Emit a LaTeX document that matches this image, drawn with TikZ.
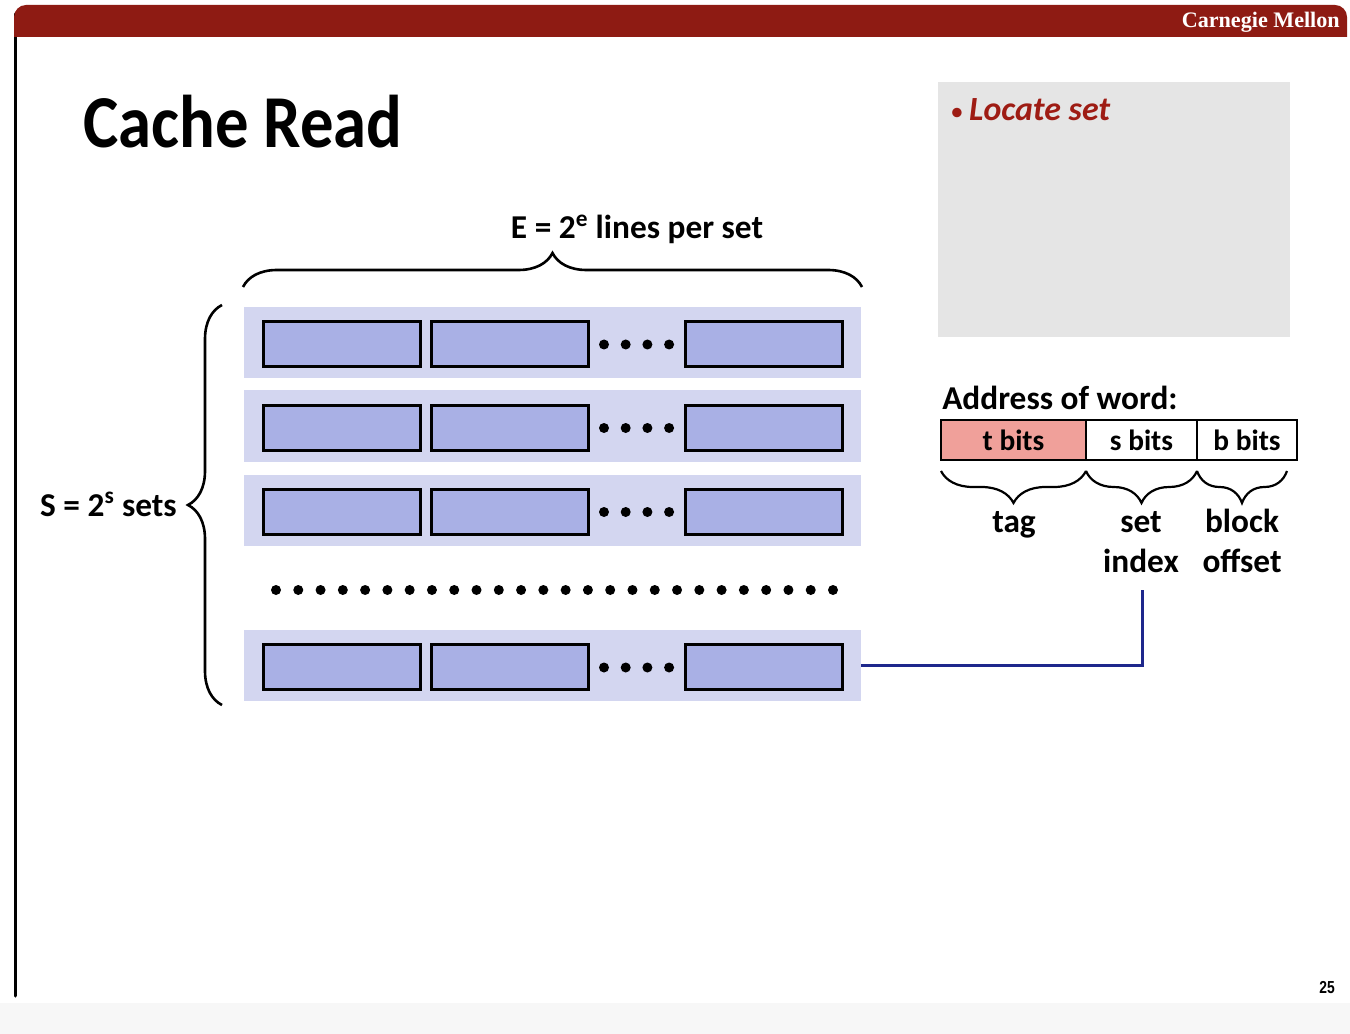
\documentclass[tikz,border=0pt]{standalone}
\usepackage{fontspec}
\setmainfont{Carlito}
\newfontfamily\brandfont{Liberation Serif}
\newfontfamily\pagefont{Liberation Sans}
\usetikzlibrary{decorations.pathreplacing}
\definecolor{cmured}{RGB}{142,27,19}
\definecolor{bulletred}{RGB}{158,28,20}
\definecolor{setbg}{RGB}{211,214,240}
\definecolor{linefill}{RGB}{169,176,229}
\definecolor{tagfill}{RGB}{240,160,154}
\definecolor{panelgray}{RGB}{229,229,229}
\definecolor{navy}{RGB}{30,40,140}
\definecolor{pagegray}{RGB}{247,247,247}
\newdimen\pxu \pxu=0.75pt
\begin{document}
\begin{tikzpicture}[x=0.75pt,y=-0.75pt,
  setrow/.style={fill=setbg, draw=none, minimum width=617\pxu, minimum height=71\pxu, inner sep=0},
  cacheline/.style={fill=linefill, draw=black, line width=3\pxu, minimum width=157\pxu, minimum height=45\pxu, inner sep=0},
  dot/.style={circle, fill=black, minimum size=10\pxu, inner sep=0},
  bitfield/.style={draw=black, line width=1.5\pxu, minimum height=40\pxu, inner sep=0, font=\fontsize{22}{26}\selectfont\bfseries},
  bigbrace/.style={decorate, decoration={brace, amplitude=34\pxu}, line width=2.6\pxu},
  smallbrace/.style={decorate, decoration={brace, amplitude=32\pxu}, line width=2.2\pxu},
  txt/.style={inner sep=0, font=\fontsize{25}{29}\selectfont\bfseries}
]
% page and slide frame
\useasboundingbox (0,0) rectangle (1350,1034);
\fill[white] (0,0) rectangle (1350,1034);
\fill[pagegray] (0,1003) rectangle (1350,1034);
\fill[white, rounded corners=9pt] (14,5) rectangle (1347,1002);
\draw[line width=3\pxu, line cap=round] (15.5,14) -- (15.5,996);
% header bar
\begin{scope}
  \clip (0,0) rectangle (1350,37);
  \fill[cmured, rounded corners=9pt] (14,5) rectangle (1347,60);
\end{scope}
\node[anchor=base east, inner sep=0, text=white, font=\brandfont\bfseries\fontsize{16.6}{20}\selectfont] (brand) at (1340,28) {Carnegie Mellon};

% title
\node[anchor=base west, inner sep=0, font=\fontsize{56}{60}\selectfont\bfseries] (title) at (83,148) {\scalebox{0.893}[1]{Cache Read}};

% side panel
\node[fill=panelgray, minimum width=352\pxu, minimum height=255\pxu, inner sep=0] (panel) at (1114,209.5) {};
\node[anchor=base west, inner sep=0, text=bulletred, font=\fontsize{25.4}{30}\selectfont] (locate) at (950,121) {{\fontsize{20}{24}\selectfont •}\,\textbf{\textit{Locate set}}};

% cache sets
\foreach \r/\y in {1/342.5, 2/426, 3/510, 4/665.5} {
  \node[setrow] (set\r) at (552.5,\y) {};
  \node[cacheline] (line\r a) at (342,{\y+1.5}) {};
  \node[cacheline] (line\r b) at (510,{\y+1.5}) {};
  \node[cacheline] (line\r c) at (763.5,{\y+1.5}) {};
  \foreach \k in {0,...,3}
    \node[dot] (dot\r\k) at ({604+21.7*\k},{\y+2}) {};
}
\foreach \k in {0,...,25}
  \node[dot] (gap\k) at ({276+22.28*\k},590) {};

% braces and their labels
\coordinate (topL) at (243,287);
\coordinate (topR) at (862,287);
\draw[bigbrace] (topL) -- (topR);
\node[txt, anchor=base] (Elbl) at (637,239) {E = 2\textsuperscript{e} lines per set};
\coordinate (leftB) at (222,705);
\coordinate (leftT) at (222,305);
\draw[bigbrace] (leftB) -- (leftT);
\node[txt, anchor=base east] (Slbl) at (177,516) {S = 2\textsuperscript{s} sets};

% address of word
\node[txt, anchor=base west] (addr) at (942,409) {Address of word:};
\node[bitfield, fill=tagfill, minimum width=145\pxu] (tbits) at (1013.5,440) {t bits};
\node[bitfield, fill=white, minimum width=111\pxu] (sbits) at (1141.5,440) {s bits};
\node[bitfield, fill=white, minimum width=100\pxu] (bbits) at (1247,440) {b bits};
\coordinate (b0) at (941,471);
\coordinate (b1) at (1086,471);
\coordinate (b2) at (1197,471);
\coordinate (b3) at (1287,471);
\draw[smallbrace] (b1) -- (b0);
\draw[smallbrace] (b2) -- (b1);
\draw[smallbrace] (b3) -- (b2);
\node[txt, anchor=base] (taglbl) at (1014,532) {tag};
\node[txt, anchor=base] (setlbl) at (1141,532) {set};
\node[txt, anchor=base] (indexlbl) at (1141,572) {index};
\node[txt, anchor=base] (blocklbl) at (1242,532) {block};
\node[txt, anchor=base] (offsetlbl) at (1242,572) {offset};

% set index selects the set
\coordinate (idxtap) at (1142,590);
\draw[navy, line width=3\pxu] (set4.east) -| (idxtap);

% page number
\node[anchor=base east, inner sep=0, font=\pagefont\bfseries\fontsize{13}{15}\selectfont] (pnum) at (1335,993) {\scalebox{0.8}[1]{25}};
\end{tikzpicture}
\end{document}
